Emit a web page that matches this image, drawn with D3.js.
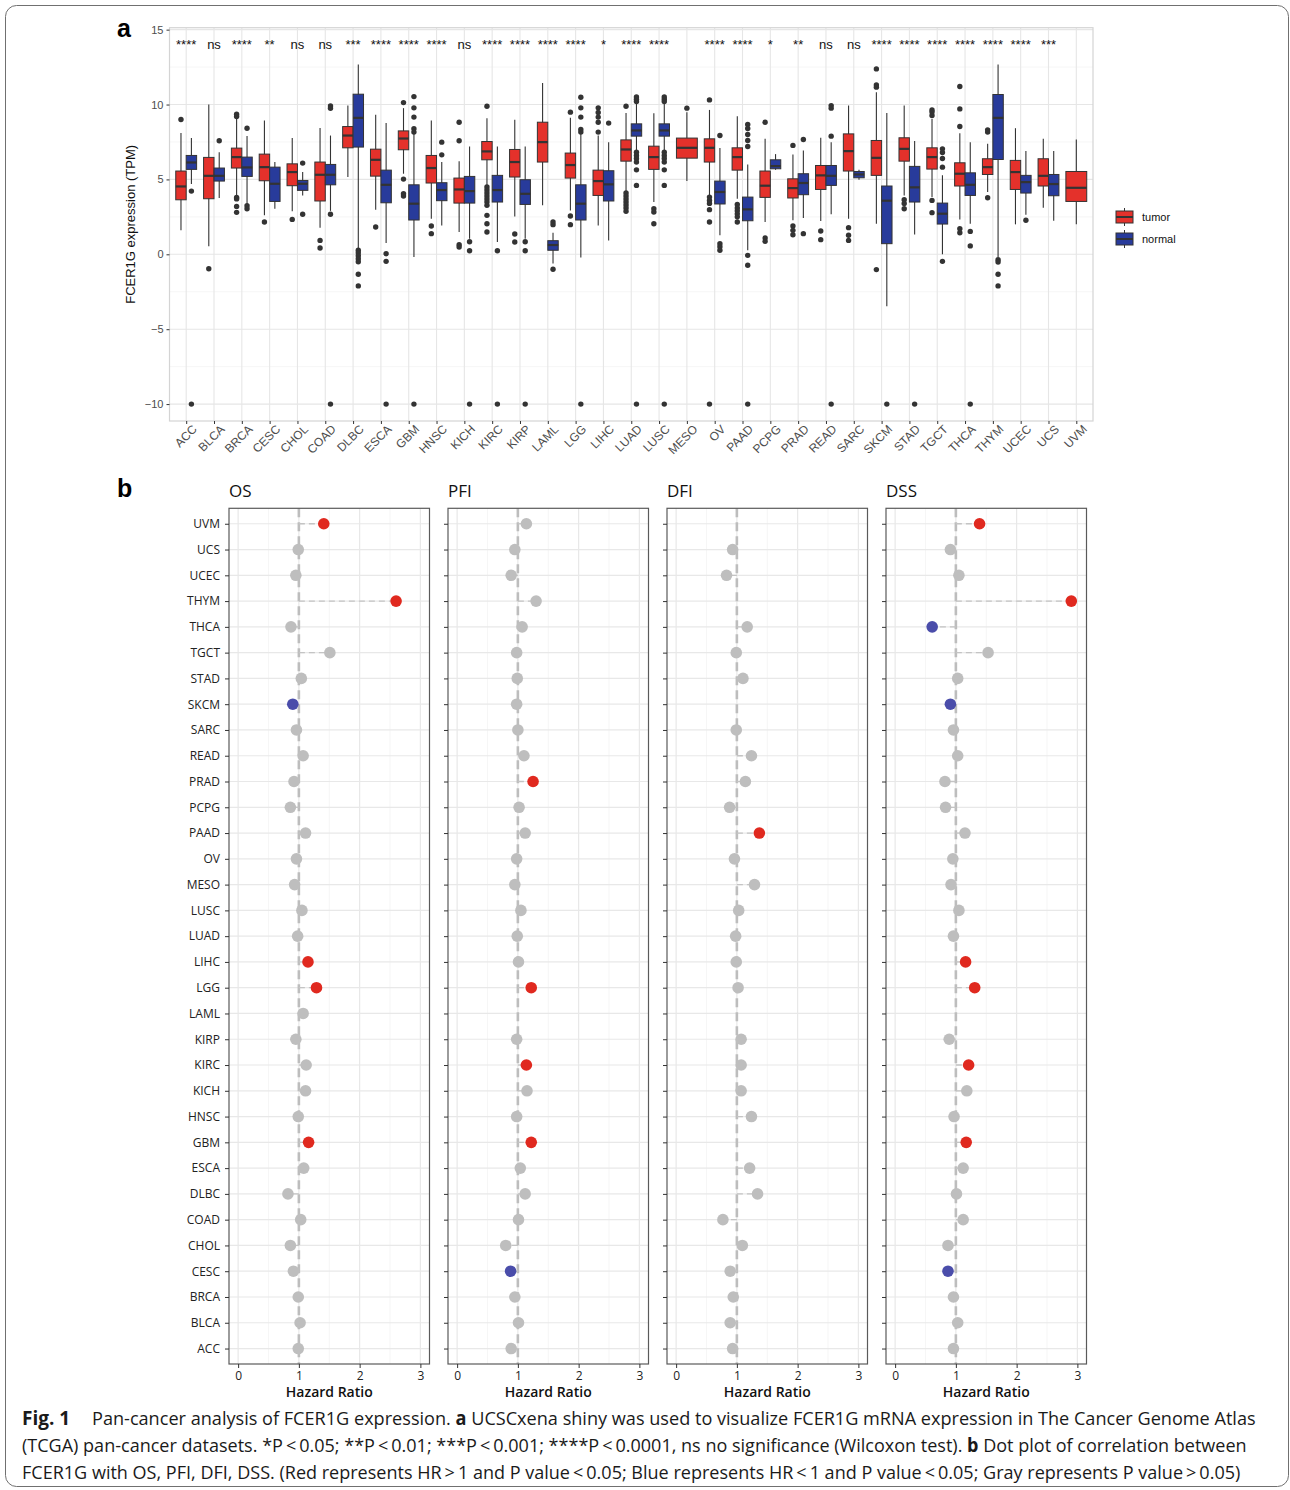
<!doctype html>
<html lang="en">
<head>
<meta charset="utf-8">
<title>FCER1G pan-cancer</title>
<style>
  body { margin: 0; background: #fff; }
  svg text { font-family: "Liberation Sans", Arial, sans-serif; }
  svg .sans2 { font-family: "Open Sans", "Noto Sans", sans-serif; }
</style>
</head>
<body>
<div id="chart"></div>
<script src="https://cdn.jsdelivr.net/npm/d3@7"></script>
<script>
// ---------- data ----------
const cancers = ["ACC","BLCA","BRCA","CESC","CHOL","COAD","DLBC","ESCA","GBM","HNSC","KICH","KIRC","KIRP","LAML","LGG","LIHC","LUAD","LUSC","MESO","OV","PAAD","PCPG","PRAD","READ","SARC","SKCM","STAD","TGCT","THCA","THYM","UCEC","UCS","UVM"];

const signif = ["****","ns","****","**","ns","ns","***","****","****","****","ns","****","****","****","****","*","****","****","","****","****","*","**","ns","ns","****","****","****","****","****","****","***",""];

// [lower whisker, q1, median, q3, upper whisker]
const tumorStats = [
  [1.6,3.64,4.53,5.56,8.1],[0.53,3.71,5.24,6.47,10.0],[3.93,5.76,6.49,7.09,9.04],[2.6,4.91,5.82,6.69,8.93],
  [2.87,4.58,5.49,6.04,7.76],[1.78,3.56,5.31,6.16,8.44],[5.16,7.11,7.93,8.53,9.93],[2.98,5.22,6.31,7.02,9.31],
  [5.38,6.98,7.73,8.24,9.76],[2.38,4.76,5.76,6.6,8.93],[1.49,3.42,4.33,5.09,6.22],[4.6,6.31,6.87,7.53,9.09],
  [2.53,5.16,6.16,7.0,8.98],[3.27,6.16,7.49,8.82,11.44],[2.93,5.09,5.96,6.76,9.11],[1.93,3.93,4.89,5.62,7.93],
  [4.2,6.22,7.0,7.64,9.44],[3.49,5.67,6.49,7.22,9.42],[4.89,6.42,7.11,7.76,9.49],[3.93,6.16,7.11,7.71,9.64],
  [3.71,5.62,6.49,7.11,9.22],[2.16,3.8,4.58,5.56,7.71],[2.27,3.76,4.42,5.04,6.67],[2.22,4.33,5.27,5.93,7.78],
  [2.38,5.56,6.89,8.04,9.93],[2.04,5.27,6.44,7.6,10.82],[3.93,6.22,7.04,7.78,9.93],[3.82,5.69,6.49,7.11,9.04],
  [2.33,4.56,5.38,6.11,8.09],[4.16,5.33,5.82,6.38,7.38],[2.0,4.33,5.49,6.27,8.42],[3.11,4.56,5.24,6.38,7.71],
  [2.0,3.53,4.44,5.53,7.67]
];
const tumorOut = [
  [9.0],[-0.96],[9.2,9.35,3.8,3.7,3.2,2.8],[2.16],[2.33],[0.93,0.42],[],[1.82],
  [10.13,5.02,4.04,3.89],[1.89,1.38],[0.64,0.49,7.58,8.82],[9.89,4.49,4.3,4.1,3.9,3.7,3.5,3.27,2.6,2.04,1.49],
  [1.36,0.82],[],[9.49,2.56,1.98],[9.78,9.47,9.16,8.82,8.16],
  [9.89,4.09,3.9,3.7,3.5,3.3,3.1,2.87],[3.04,2.82,2.04],[9.76],[10.31,3.82,3.6,3.4,2.98,2.16,-10],
  [3.33,3.1,2.9,2.7,2.5,2.16],[8.82,1.09,0.87],[7.27,1.89,1.6,1.31],[1.56,0.98],
  [1.78,1.27,0.93],[12.38,11.31,11.16,-1.02],[3.64,3.4,3.04],[9.64,9.5,9.27,3.6,2.78],
  [11.2,9.71,8.53,1.71,1.44],[8.31,8.16,3.78],[],[],[]
];
const normalStats = [
  [4.7,5.67,6.13,6.6,7.76],[3.76,4.89,5.24,5.76,6.82],[3.33,5.2,5.8,6.49,7.9],[3.04,3.53,4.71,5.82,6.16],
  [3.93,4.27,4.71,4.93,5.49],[2.9,4.64,5.31,6.0,7.93],[0.38,7.16,9.11,10.69,12.67],[0.76,3.44,4.64,5.62,8.76],
  [-0.18,2.29,3.38,4.64,8.04],[1.93,3.58,4.29,4.78,6.16],[1.04,3.42,4.22,5.2,7.2],[0.82,3.49,4.29,5.27,7.2],
  [1.04,3.33,4.04,4.98,7.2],[-0.62,0.27,0.62,0.91,1.44],[-0.22,2.29,3.38,4.64,8.04],[0.93,3.56,4.67,5.58,7.49],
  [6.93,7.89,8.27,8.71,10.11],[6.93,7.89,8.27,8.71,10.11],null,[1.27,3.36,4.16,4.89,7.09],
  [0.27,2.24,3.0,3.82,6.0],[5.64,5.71,5.89,6.31,6.69],[2.42,3.98,4.76,5.38,6.93],[2.67,4.6,5.24,5.93,7.49],
  [4.98,5.11,5.33,5.53,5.64],[-3.47,0.71,3.58,4.56,9.44],[1.33,3.49,4.47,5.87,7.56],[0.0,2.02,2.71,3.42,5.27],
  [2.04,3.93,4.64,5.44,7.49],[-0.18,6.33,9.11,10.67,12.67],[2.64,4.09,4.82,5.27,6.89],[2.24,3.91,4.69,5.33,6.89],
  null
];
const normalOut = [
  [4.22,-10],[7.58],[8.42,3.24,3.04],[],[6.09,2.67],[9.9,9.75,2.67,-10],[0.27,0.1,-0.1,-0.3,-0.5,-1.33,-2.11],[0.04,-0.47,-10],
  [10.53,9.78,9.16,8.38,8.16,-10],[7.49,6.64],[0.84,0.24,-10],[0.24,-10],
  [0.84,0.24,-10],[2.16,1.98,-1.0],[10.49,9.78,9.16,8.33,8.16,-10],[8.76],
  [10.5,10.35,10.2,6.82,6.6,6.4,6.16,5.64,4.6,-10],[10.5,10.35,10.2,6.82,6.6,6.4,6.16,5.64,4.6,-10],[],[7.93,0.71,0.5,0.27],
  [8.67,8.4,8.0,7.6,7.2,-0.07,-0.73,-10],[],[7.67,1.38],[9.93,9.76,7.89,-10],
  [],[-10],[-10],[7.04,6.8,6.4,5.82,-0.47],
  [1.53,0.56,-10],[-0.36,-0.51,-1.33,-2.11],[2.27],[],[]
];

const yTicksA = [-10, -5, 0, 5, 10, 15];

// hazard ratios, same order as cancers (null = not available)
const hrOS  = [0.99,1.02,0.99,0.91,0.86,1.03,0.82,1.08,1.16,0.99,1.11,1.12,0.95,1.07,1.29,1.15,0.98,1.05,0.93,0.96,1.11,0.86,0.92,1.07,0.96,0.90,1.04,1.51,0.87,2.60,0.95,0.99,1.41];
const hrPFI = [0.89,1.01,0.95,0.88,0.80,1.01,1.12,1.04,1.22,0.98,1.15,1.14,0.98,null,1.22,1.01,0.99,1.05,0.95,0.98,1.12,1.02,1.25,1.10,1.00,0.98,0.99,0.98,1.07,1.30,0.89,0.95,1.14];
const hrDFI = [0.93,0.89,0.94,0.89,1.09,0.77,1.34,1.21,null,1.24,1.07,1.07,1.07,null,1.02,0.99,0.98,1.03,1.29,0.96,1.37,0.88,1.14,1.24,0.99,null,1.10,0.99,1.17,null,0.83,0.93,null];
const hrDSS = [0.96,1.03,0.96,0.87,0.87,1.12,1.01,1.12,1.17,0.97,1.18,1.21,0.89,null,1.31,1.16,0.96,1.05,0.92,0.95,1.15,0.83,0.82,1.03,0.96,0.91,1.03,1.53,0.61,2.90,1.05,0.91,1.39];

const upOS = ["GBM","LGG","LIHC","THYM","UVM"],   downOS = ["SKCM"];
const upPFI = ["GBM","KIRC","LGG","PRAD"],        downPFI = ["CESC"];
const upDFI = ["PAAD"],                           downDFI = [];
const upDSS = ["GBM","KIRC","LGG","LIHC","THYM","UVM"], downDSS = ["CESC","SKCM","THCA"];

const hrTicks = [0, 1, 2, 3];

// ---------- drawing ----------
const W = 1290, H = 1490;
const svg = d3.select("#chart").append("svg").attr("width", W).attr("height", H);

svg.append("rect").attr("x", 5.5).attr("y", 5.5).attr("width", 1283).attr("height", 1481)
  .attr("rx", 11).attr("fill", "none").attr("stroke", "#707070").attr("stroke-width", 1);

// ===== panel a =====
const pa = {left: 169.5, right: 1093, top: 27.7, bottom: 421};
const x = d3.scalePoint().domain(cancers).range([pa.left, pa.right]).padding(0.6);
const y = d3.scaleLinear().domain([-11.13, 15.13]).range([pa.bottom, pa.top]);
const step = x.step();

const ga = svg.append("g");
ga.append("rect").attr("x", pa.left).attr("y", pa.top).attr("width", pa.right - pa.left)
  .attr("height", pa.bottom - pa.top).attr("fill", "#fff");

// grid
ga.append("g").selectAll("line").data(d3.range(-7.5, 15, 5)).join("line")
  .attr("x1", pa.left).attr("x2", pa.right).attr("y1", d => y(d)).attr("y2", d => y(d))
  .attr("stroke", "#f0f0f0").attr("stroke-width", 0.6);
ga.append("g").selectAll("line").data(yTicksA).join("line")
  .attr("x1", pa.left).attr("x2", pa.right).attr("y1", d => y(d)).attr("y2", d => y(d))
  .attr("stroke", "#e6e6e6").attr("stroke-width", 1.1);
ga.append("g").selectAll("line").data(cancers).join("line")
  .attr("x1", d => x(d)).attr("x2", d => x(d)).attr("y1", pa.top).attr("y2", pa.bottom)
  .attr("stroke", "#e6e6e6").attr("stroke-width", 1.1);
ga.append("rect").attr("x", pa.left).attr("y", pa.top).attr("width", pa.right - pa.left)
  .attr("height", pa.bottom - pa.top).attr("fill", "none").attr("stroke", "#d4d4d4").attr("stroke-width", 1.2);

// boxes
const boxes = [];
const dots = [];
cancers.forEach((c, i) => {
  const both = normalStats[i] !== null;
  [["tumor", tumorStats, tumorOut, "#E4312B", -1], ["normal", normalStats, normalOut, "#283B9B", 1]]
    .forEach(([key, stats, outs, fill, side]) => {
      const s = stats[i];
      if (!s) return;
      const w = both ? step * 0.375 : step * 0.75;
      const cx = x(c) + (both ? side * step * 0.1875 : 0);
      boxes.push({cx, w, s, fill});
      outs[i].forEach(v => dots.push({cx, v}));
    });
});

const bg = ga.append("g").selectAll("g").data(boxes).join("g");
bg.append("line").attr("x1", d => d.cx).attr("x2", d => d.cx)
  .attr("y1", d => y(d.s[0])).attr("y2", d => y(d.s[4]))
  .attr("stroke", "#333").attr("stroke-width", 1.1);
bg.append("rect").attr("x", d => d.cx - d.w / 2).attr("width", d => d.w)
  .attr("y", d => y(d.s[3])).attr("height", d => y(d.s[1]) - y(d.s[3]))
  .attr("fill", d => d.fill).attr("stroke", "#333").attr("stroke-width", 1);
bg.append("line").attr("x1", d => d.cx - d.w / 2).attr("x2", d => d.cx + d.w / 2)
  .attr("y1", d => y(d.s[2])).attr("y2", d => y(d.s[2]))
  .attr("stroke", "#333").attr("stroke-width", 2.2);

ga.append("g").selectAll("circle").data(dots).join("circle")
  .attr("cx", d => d.cx).attr("cy", d => y(d.v)).attr("r", 2.7).attr("fill", "#333");

// significance
ga.append("g").selectAll("text").data(cancers).join("text")
  .attr("x", d => x(d)).attr("y", 49).attr("text-anchor", "middle")
  .attr("font-size", 13).attr("fill", "#111")
  .text((d, i) => signif[i]);

// axes
const yAxA = ga.append("g").attr("transform", `translate(${pa.left},0)`)
  .call(d3.axisLeft(y).tickValues(yTicksA).tickSize(3).tickPadding(3));
yAxA.select(".domain").remove();
yAxA.selectAll("line").attr("stroke", "#333");
yAxA.selectAll("text").attr("font-size", 11).attr("fill", "#4d4d4d")
  .attr("font-family", "Liberation Sans, Arial, sans-serif");

const xAxA = ga.append("g").attr("transform", `translate(0,${pa.bottom})`)
  .call(d3.axisBottom(x).tickSize(3));
xAxA.select(".domain").remove();
xAxA.selectAll("line").attr("stroke", "#333");
xAxA.selectAll("text")
  .attr("font-size", 12).attr("fill", "#4d4d4d")
  .attr("font-family", "Liberation Sans, Arial, sans-serif")
  .attr("text-anchor", "end")
  .attr("transform", "translate(8,6) rotate(-45)")
  .attr("x", 0).attr("y", 0).attr("dy", "0.35em");

ga.append("text")
  .attr("transform", `translate(135,${(pa.top + pa.bottom) / 2}) rotate(-90)`)
  .attr("text-anchor", "middle").attr("font-size", 13).attr("fill", "#111")
  .text("FCER1G expression (TPM)");

ga.append("text").attr("x", 117).attr("y", 37).attr("font-size", 25)
  .attr("font-weight", "bold").text("a");

// legend
const leg = ga.append("g");
[["tumor", "#E4312B", 217], ["normal", "#283B9B", 239]].forEach(([lab, fill, cy]) => {
  leg.append("line").attr("x1", 1124.5).attr("x2", 1124.5).attr("y1", cy - 9).attr("y2", cy + 9)
    .attr("stroke", "#333").attr("stroke-width", 1);
  leg.append("rect").attr("x", 1116).attr("y", cy - 6).attr("width", 17).attr("height", 12)
    .attr("fill", fill).attr("stroke", "#333").attr("stroke-width", 1);
  leg.append("line").attr("x1", 1116).attr("x2", 1133).attr("y1", cy).attr("y2", cy)
    .attr("stroke", "#333").attr("stroke-width", 2);
  leg.append("text").attr("x", 1142).attr("y", cy).attr("dy", "0.35em")
    .attr("font-size", 11).attr("fill", "#111").text(lab);
});

// ===== panel b =====
svg.append("text").attr("x", 117).attr("y", 497).attr("font-size", 25)
  .attr("font-weight", "bold").text("b");

const panels = [
  {name: "OS",  hr: hrOS,  up: upOS,  down: downOS},
  {name: "PFI", hr: hrPFI, up: upPFI, down: downPFI},
  {name: "DFI", hr: hrDFI, up: upDFI, down: downDFI},
  {name: "DSS", hr: hrDSS, up: upDSS, down: downDSS}
];
const pb = {top: 508.3, bottom: 1364, width: 200.5, first: 229, gap: 219};
const yb = d3.scalePoint().domain(cancers).range([pb.bottom, pb.top]).padding(0.6);

panels.forEach((p, k) => {
  const left = pb.first + k * pb.gap;
  const xb = d3.scaleLinear().domain([-0.15, 3.15]).range([left, left + pb.width]);
  const g = svg.append("g");

  g.append("text").attr("class", "sans2").attr("x", left).attr("y", 497)
    .attr("font-size", 17).attr("font-weight", 500).attr("fill", "#111").text(p.name);

  g.append("g").selectAll("line").data([0.5, 1.5, 2.5]).join("line")
    .attr("x1", d => xb(d)).attr("x2", d => xb(d)).attr("y1", pb.top).attr("y2", pb.bottom)
    .attr("stroke", "#f0f0f0").attr("stroke-width", 0.7);
  g.append("g").selectAll("line").data(hrTicks).join("line")
    .attr("x1", d => xb(d)).attr("x2", d => xb(d)).attr("y1", pb.top).attr("y2", pb.bottom)
    .attr("stroke", "#e8e8e8").attr("stroke-width", 1.2);
  g.append("g").selectAll("line").data(cancers).join("line")
    .attr("x1", left).attr("x2", left + pb.width).attr("y1", d => yb(d)).attr("y2", d => yb(d))
    .attr("stroke", "#e8e8e8").attr("stroke-width", 1.2);

  const pts = cancers.map((c, i) => ({c, v: p.hr[i]})).filter(d => d.v !== null);

  g.append("line").attr("x1", xb(1)).attr("x2", xb(1)).attr("y1", pb.top).attr("y2", pb.bottom)
    .attr("stroke", "#bdbdbd").attr("stroke-width", 2.6).attr("stroke-dasharray", "9,5");

  g.append("g").selectAll("line").data(pts).join("line")
    .attr("x1", xb(1)).attr("x2", d => xb(d.v)).attr("y1", d => yb(d.c)).attr("y2", d => yb(d.c))
    .attr("stroke", "#c4c4c4").attr("stroke-width", 1.3).attr("stroke-dasharray", "6,4");

  g.append("g").selectAll("circle").data(pts).join("circle")
    .attr("cx", d => xb(d.v)).attr("cy", d => yb(d.c)).attr("r", 5.8)
    .attr("fill", d => p.up.includes(d.c) ? "#E0291F" : p.down.includes(d.c) ? "#4A4DAA" : "#BEBEBE");

  g.append("rect").attr("x", left).attr("y", pb.top).attr("width", pb.width)
    .attr("height", pb.bottom - pb.top).attr("fill", "none").attr("stroke", "#5a5a5a").attr("stroke-width", 1.2);

  const yAx = g.append("g").attr("transform", `translate(${left},0)`)
    .call(d3.axisLeft(yb).tickSize(4).tickPadding(5).tickFormat(k === 0 ? d => d : () => ""));
  yAx.select(".domain").remove();
  yAx.selectAll("line").attr("stroke", "#333");
  yAx.selectAll("text").attr("class", "sans2").attr("font-size", 12).attr("fill", "#222");

  const xAx = g.append("g").attr("transform", `translate(0,${pb.bottom})`)
    .call(d3.axisBottom(xb).tickValues(hrTicks).tickSize(4).tickPadding(3).tickFormat(d3.format("d")));
  xAx.select(".domain").remove();
  xAx.selectAll("line").attr("stroke", "#333");
  xAx.selectAll("text").attr("class", "sans2").attr("font-size", 12).attr("fill", "#222");

  g.append("text").attr("class", "sans2").attr("x", left + pb.width / 2).attr("y", 1397)
    .attr("text-anchor", "middle").attr("font-size", 14).attr("font-weight", 600)
    .attr("fill", "#111").text("Hazard Ratio");
});

// ===== caption =====
// each line is squeezed horizontally to the width it takes in the figure
function fitLine(sel, x0, y0, target) {
  const w = sel.node().getComputedTextLength();
  sel.attr("transform", `translate(${x0},${y0}) scale(${target / w},1)`);
}
const cap = svg.append("g").attr("fill", "#1a1a1a");
cap.append("text").attr("class", "sans2").attr("x", 22).attr("y", 1425)
  .attr("font-size", 19).attr("font-weight", "bold").text("Fig. 1");

const l1 = cap.append("text").attr("class", "sans2").attr("font-size", 19);
l1.append("tspan").text("Pan-cancer analysis of FCER1G expression. ");
l1.append("tspan").attr("font-weight", "bold").text("a");
l1.append("tspan").text(" UCSCxena shiny was used to visualize FCER1G mRNA expression in The Cancer Genome Atlas");
fitLine(l1, 92, 1425, 1165);

const l2 = cap.append("text").attr("class", "sans2").attr("font-size", 19);
l2.append("tspan").text("(TCGA) pan-cancer datasets. *P\u2009<\u20090.05; **P\u2009<\u20090.01; ***P\u2009<\u20090.001; ****P\u2009<\u20090.0001, ns no significance (Wilcoxon test). ");
l2.append("tspan").attr("font-weight", "bold").text("b");
l2.append("tspan").text(" Dot plot of correlation between");
fitLine(l2, 22, 1452, 1225);

const l3 = cap.append("text").attr("class", "sans2").attr("font-size", 19)
  .text("FCER1G with OS, PFI, DFI, DSS. (Red represents HR\u2009>\u20091 and P value\u2009<\u20090.05; Blue represents HR\u2009<\u20091 and P value\u2009<\u20090.05; Gray represents P value\u2009>\u20090.05)");
fitLine(l3, 22, 1479, 1219);
</script>
</body>
</html>
